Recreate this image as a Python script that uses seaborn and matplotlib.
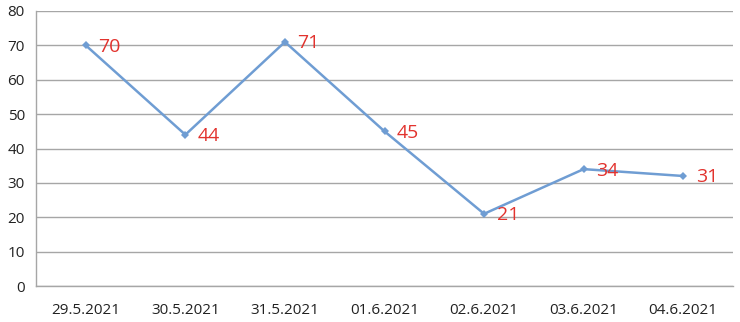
import matplotlib
matplotlib.use("Agg")
import matplotlib.pyplot as plt
import seaborn as sns
import pandas as pd
import numpy as np

dates = ["29.5.2021", "30.5.2021", "31.5.2021", "01.6.2021", "02.6.2021", "03.6.2021", "04.6.2021"]
values = [70, 44, 71, 45, 21, 34, 32]
labels = ["70", "44", "71", "45", "21", "34", "31"]

sns.set_style("white")
plt.rcParams['font.family'] = ['Open Sans', 'DejaVu Sans']

df = pd.DataFrame({"date": dates, "value": values})

fig = plt.figure(figsize=(7.4, 3.22), dpi=100)
ax = fig.add_axes([36/740, 1-286/322, (733-36)/740, (286-11)/322])

line_color = "#6F9DD3"
sns.lineplot(data=df, x="date", y="value", ax=ax, color=line_color, linewidth=1.8,
             marker="D", markersize=4.5, markeredgewidth=0, sort=False)

for i, (v, lab) in enumerate(zip(values, labels)):
    ax.annotate(lab, (i, v), xytext=(9, -1), textcoords="offset points",
                ha="left", va="center", color="#E2332E", fontsize=14)

ax.set_xlim(-0.5, 6.5)
ax.set_ylim(0, 80)
ax.set_yticks(np.arange(0, 81, 10))
ax.yaxis.grid(True, color="#A6A6A6", linewidth=1)
ax.xaxis.grid(False)
ax.set_axisbelow(True)

ax.set_xticks(range(len(dates)))
ax.set_xticklabels(dates)
ax.set_xticks(np.arange(-0.5, 7, 1), minor=True)
ax.tick_params(axis="x", which="major", length=0, pad=12, labelsize=11, colors="#222222")
ax.tick_params(axis="x", which="minor", length=5, color="#A6A6A6", width=1)
ax.tick_params(axis="y", length=5, color="#A6A6A6", width=1, labelsize=11, labelcolor="#222222", pad=3)

ax.set_xlabel("")
ax.set_ylabel("")
for s in ["top", "right"]:
    ax.spines[s].set_visible(False)
for s in ["left", "bottom"]:
    ax.spines[s].set_color("#A6A6A6")
    ax.spines[s].set_linewidth(1)

fig.savefig("out.png", dpi=100)
